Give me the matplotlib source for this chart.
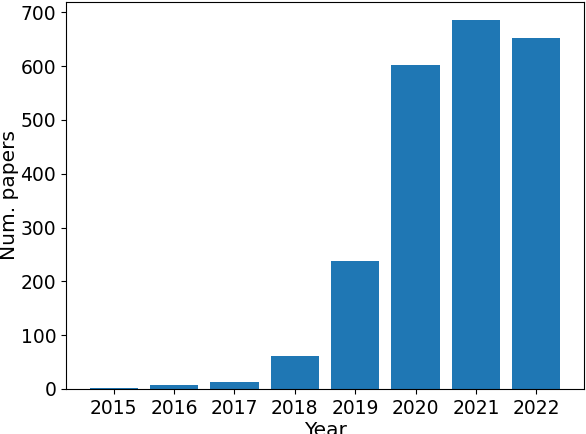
import matplotlib.pyplot as plt

YEARS = ["2015", "2016", "2017", "2018", "2019", "2020", "2021", "2022"]
PAPERS = [2, 7, 13, 62, 237, 603, 685, 652]


def main():
    plt.rcParams["xtick.labelsize"] = 13.5
    plt.rcParams["ytick.labelsize"] = 13.5
    plt.rcParams["axes.labelsize"] = 14.5
    fig = plt.figure(figsize=(5.86, 4.34), dpi=100)
    ax = fig.add_axes([66 / 586, 45 / 434, 518 / 586, 387 / 434])

    ax.bar(YEARS, PAPERS, color="#1f77b4", width=0.8)
    ax.set_xlabel("Year", labelpad=2)
    ax.set_ylabel("Num. papers", labelpad=1)

    fig.savefig("out.png", dpi=100)


if __name__ == "__main__":
    main()
